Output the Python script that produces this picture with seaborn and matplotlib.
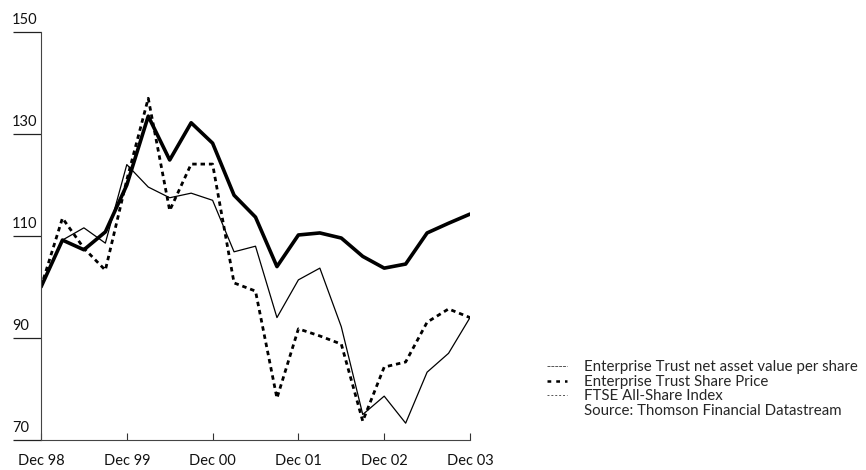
import numpy as np
import pandas as pd
import seaborn as sns
import matplotlib.pyplot as plt
from matplotlib.lines import Line2D

# quarterly points, Dec 98 .. Dec 03 (rebased to 100)
quarters = list(range(21))
thick_line = [100, 109.2, 107.3, 110.8, 120, 133.5, 124.9, 132.2, 128.2, 118, 113.7,
              104, 110.2, 110.6, 109.6, 106, 103.7, 104.5, 110.6, 112.5, 114.3]
thin_line = [100, 109.2, 111.6, 108.6, 124, 119.6, 117.5, 118.4, 117, 106.9, 108,
             94, 101.4, 103.7, 92.2, 75, 78.6, 73.3, 83.3, 87, 94]
share_price = [100, 113.5, 107.6, 103.3, 121, 137, 115, 124.1, 124.1, 100.8, 99.2,
               78.2, 91.8, 90.4, 88.8, 73.7, 84.3, 85.3, 93.1, 95.7, 94]

tick_pos = [0, 4, 8, 12, 16, 20]
tick_labels = ["Dec 98", "Dec 99", "Dec 00", "Dec 01", "Dec 02", "Dec 03"]
y_ticks = [70, 90, 110, 130, 150]
legend_labels = ["Enterprise Trust net asset value per share",
                 "Enterprise Trust Share Price",
                 "FTSE All-Share Index",
                 "Source: Thomson Financial Datastream"]

sns.set_style("white")
plt.rcParams['font.family'] = ['Lato', 'DejaVu Sans']

fig = plt.figure(figsize=(8.66, 4.70), dpi=100)
ax = fig.add_axes([41/866, 1-440/470, (470-41)/866, (440-32)/470])

sns.lineplot(x=quarters, y=thick_line, ax=ax, color="black", lw=2.6)
sns.lineplot(x=quarters, y=thin_line, ax=ax, color="black", lw=0.9)
sns.lineplot(x=quarters, y=share_price, ax=ax, color="black", lw=2.0,
             dashes=False, linestyle=(0, (1.6, 1.4)))

ax.set_xlim(0, 20)
ax.set_ylim(70, 150)
ax.set_xticks(tick_pos)
ax.set_xticklabels(tick_labels, fontsize=10.5, color="#111")
ax.tick_params(axis="x", bottom=True, direction="in", length=5, width=0.8,
               color="#333", pad=10)
ax.set_yticks(y_ticks)
ax.set_yticklabels([])
ax.tick_params(axis="y", left=True, direction="out", length=20, width=0.9, color="#222")
for v in y_ticks:
    ax.text(-0.068, v + 0.9, str(v), transform=ax.get_yaxis_transform(),
            ha="left", va="bottom", fontsize=10.5, color="#111")

for s in ["top", "right"]:
    ax.spines[s].set_visible(False)
for s in ["left", "bottom"]:
    ax.spines[s].set_color("#444")
    ax.spines[s].set_linewidth(0.8)
    ax.spines[s].set_linestyle((0, (6, 1)))

handles = [Line2D([], [], color="#555", lw=0.7, linestyle=(0, (3, 1))),
           Line2D([], [], color="black", lw=1.8, linestyle=(0, (1.5, 2))),
           Line2D([], [], color="#555", lw=0.7, linestyle=(0, (2, 2))),
           Line2D([], [], color="none")]
fig.legend(handles, legend_labels, loc="upper left", bbox_to_anchor=(547/866, 1-360/470),
           frameon=False, fontsize=10.8, handlelength=1.3, handletextpad=1.2,
           labelspacing=0.05, borderaxespad=0, borderpad=0)

fig.savefig("out.png", dpi=100)
